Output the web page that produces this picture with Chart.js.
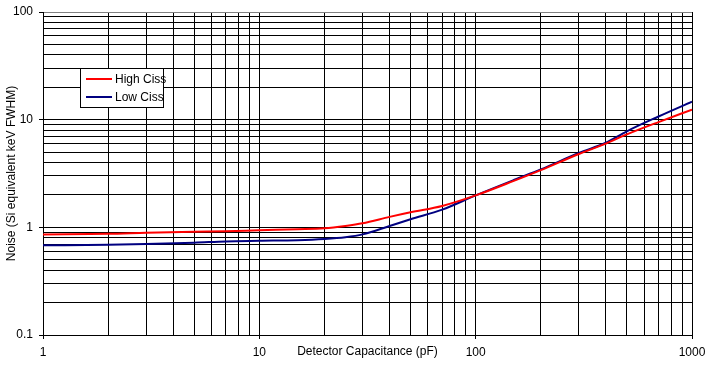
<!DOCTYPE html>
<html>
<head>
<meta charset="utf-8">
<script src="https://cdn.jsdelivr.net/npm/chart.js@4"></script>
<style>
  html, body { margin: 0; padding: 0; background: white; }
  #wrap { width: 709px; height: 366px; }
</style>
</head>
<body>
<div id="wrap"><canvas id="noise_chart" width="709" height="366"></canvas></div>
<script>
// values
const capacitance = [1, 2, 3, 5, 7, 10, 15, 20, 25, 30, 40, 50, 70, 100, 150, 200, 300, 400, 500, 700, 1000];
const highCiss = [0.86, 0.87, 0.89, 0.91, 0.92, 0.94, 0.96, 0.98, 1.03, 1.09, 1.25, 1.38, 1.58, 1.98, 2.7, 3.4, 4.8, 6.0, 7.3, 9.5, 12.4];
const lowCiss = [0.68, 0.69, 0.70, 0.72, 0.74, 0.75, 0.76, 0.78, 0.81, 0.86, 1.03, 1.19, 1.46, 1.98, 2.75, 3.45, 4.9, 6.1, 7.8, 10.7, 14.7];
const xTickLabels = [1, 10, 100, 1000];
const yTickLabels = [0.1, 1, 10, 100];
const seriesNames = ["High Ciss", "Low Ciss"];

const FONT = "'Liberation Sans', Arial, sans-serif";

function logGrid(min, max) {
    let v = [];
    for (let d = min; d < max * 0.999; d *= 10) {
        for (let k = 1; k < 10; k++) v.push(+(k * d).toPrecision(3));
    }
    v.push(max);
    return v;
}

function pairs(ys) {
    return capacitance.map(function (x, i) { return {x: x, y: ys[i]}; });
}

const legendBox = {
    id: "legendBox",
    afterDraw: function (chart) {
        const ctx = chart.ctx;
        ctx.save();
        ctx.fillStyle = "white";
        ctx.fillRect(80.5, 68.5, 83, 39);
        ctx.strokeStyle = "black";
        ctx.lineWidth = 1;
        ctx.strokeRect(80.5, 68.5, 83, 39);
        ctx.font = "12px " + FONT;
        ctx.textBaseline = "middle";
        chart.data.datasets.forEach(function (ds, i) {
            let y = 79 + i * 18;
            ctx.strokeStyle = ds.borderColor;
            ctx.lineWidth = 2;
            ctx.beginPath();
            ctx.moveTo(86, y);
            ctx.lineTo(112, y);
            ctx.stroke();
            ctx.fillStyle = "black";
            ctx.fillText(ds.label, 115, y + 1);
        });
        // x axis title sits on the tick label row
        const area = chart.chartArea;
        ctx.textAlign = "center";
        ctx.fillText("Detector Capacitance (pF)", (area.left + area.right) / 2, 352);
        ctx.restore();
    }
};

new Chart("noise_chart", {
    type: "line",
    data: {
        datasets: [{
            label: seriesNames[0],
            data: pairs(highCiss),
            borderColor: "#ff0000",
            borderWidth: 2,
            pointRadius: 0,
            cubicInterpolationMode: "monotone",
            fill: false
        }, {
            label: seriesNames[1],
            data: pairs(lowCiss),
            borderColor: "#000080",
            borderWidth: 2,
            pointRadius: 0,
            cubicInterpolationMode: "monotone",
            fill: false
        }]
    },
    plugins: [legendBox],
    options: {
        responsive: false,
        animation: false,
        layout: {padding: {left: 0, top: 12, right: 17, bottom: 0}},
        plugins: {
            legend: {display: false},
            tooltip: {enabled: false},
            title: {display: false}
        },
        scales: {
            x: {
                type: "logarithmic",
                min: 1,
                max: 1000,
                afterBuildTicks: function (scale) {
                    scale.ticks = logGrid(1, 1000).map(function (v) {
                        return {value: v, major: xTickLabels.includes(v)};
                    });
                },
                afterFit: function (scale) {
                    scale.height = 31;
                    scale.paddingLeft = 0;
                    scale.paddingRight = 0;
                },
                grid: {
                    color: "black",
                    lineWidth: 1,
                    tickLength: 4,
                    tickColor: function (c) {
                        return c.tick && xTickLabels.includes(c.tick.value) ? "black" : "rgba(0,0,0,0)";
                    }
                },
                border: {color: "black"},
                ticks: {
                    autoSkip: false,
                    maxRotation: 0,
                    padding: 6,
                    color: "black",
                    font: {family: FONT, size: 12},
                    callback: function (v) { return xTickLabels.includes(v) ? String(v) : ""; }
                }
            },
            y: {
                type: "logarithmic",
                min: 0.1,
                max: 100,
                afterBuildTicks: function (scale) {
                    scale.ticks = logGrid(0.1, 100).map(function (v) {
                        return {value: v, major: yTickLabels.includes(v)};
                    });
                },
                afterFit: function (scale) {
                    scale.width = 43;
                    scale.paddingTop = 0;
                    scale.paddingBottom = 0;
                },
                grid: {
                    color: function (c) {
                        return c.tick && c.tick.value === 100 ? "#808080" : "black";
                    },
                    lineWidth: 1,
                    tickLength: 4,
                    tickColor: function (c) {
                        return c.tick && yTickLabels.includes(c.tick.value) ? "black" : "rgba(0,0,0,0)";
                    }
                },
                border: {color: "black"},
                ticks: {
                    autoSkip: false,
                    padding: 6,
                    color: "black",
                    font: {family: FONT, size: 12},
                    callback: function (v) { return yTickLabels.includes(v) ? String(v) : ""; }
                },
                title: {
                    display: true,
                    text: "Noise (Si equivalent keV FWHM)",
                    color: "black",
                    font: {family: FONT, size: 12},
                    padding: {top: 4, bottom: 0}
                }
            }
        }
    }
});
</script>
</body>
</html>
